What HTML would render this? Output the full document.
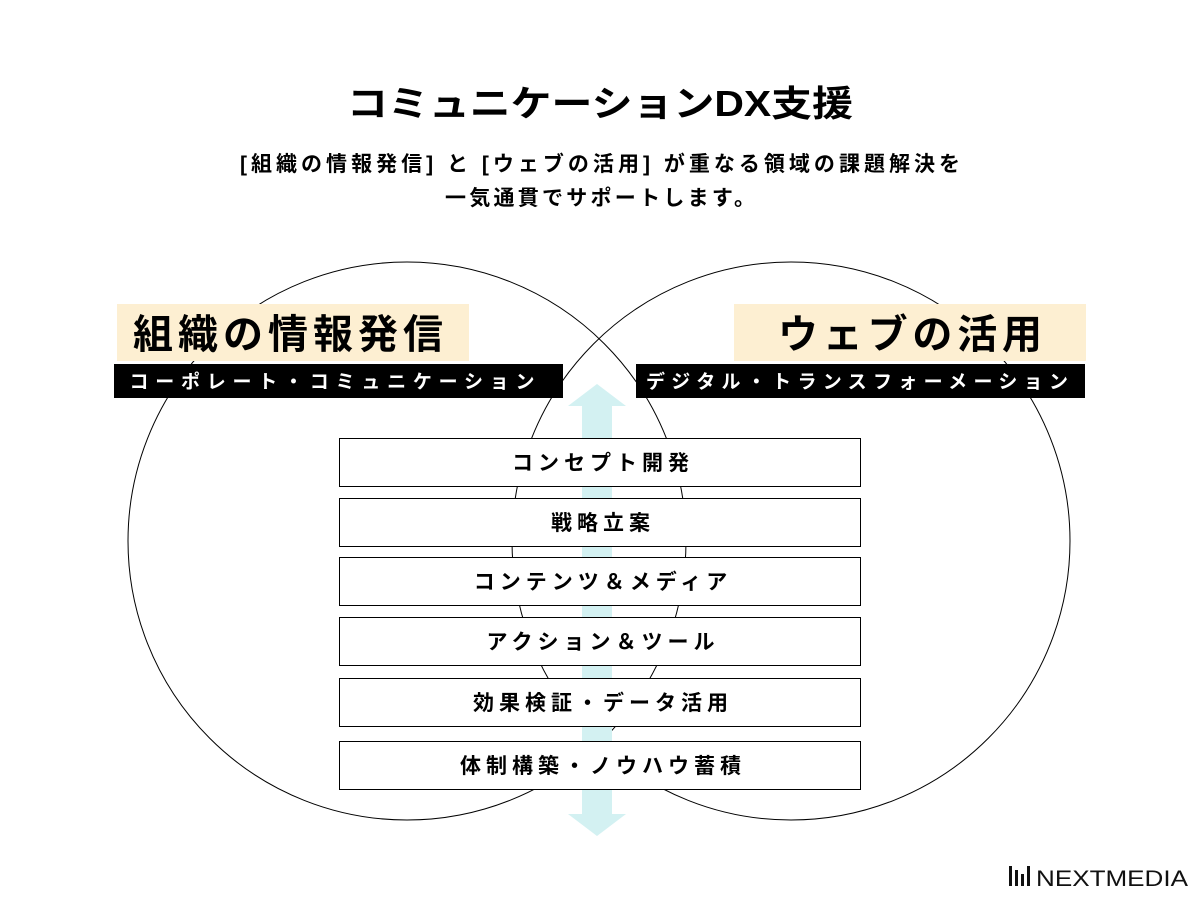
<!DOCTYPE html>
<html><head><meta charset="utf-8"><style>html,body{margin:0;padding:0;background:#fff}svg{display:block}</style></head>
<body>
<svg width="1200" height="900" viewBox="0 0 1200 900" xmlns="http://www.w3.org/2000/svg" font-family="'Liberation Sans','Noto Sans CJK JP',sans-serif">
<rect width="1200" height="900" fill="#fff"/>
<text x="600" y="116" font-size="36" font-weight="bold" text-anchor="middle" textLength="506" lengthAdjust="spacingAndGlyphs">コミュニケーションDX支援</text>
<text x="600" y="171" font-size="21" font-weight="bold" text-anchor="middle" textLength="720" lengthAdjust="spacing">[組織の情報発信] と [ウェブの活用] が重なる領域の課題解決を</text>
<text x="600" y="205" font-size="21" font-weight="bold" text-anchor="middle" textLength="310" lengthAdjust="spacing">一気通貫でサポートします。</text>
<circle cx="407" cy="541" r="279" fill="none" stroke="#000" stroke-width="1"/>
<circle cx="791" cy="541" r="279" fill="none" stroke="#000" stroke-width="1"/>
<rect x="117" y="304" width="352" height="57" fill="#fdefd2"/>
<rect x="734" y="304" width="352" height="57" fill="#fdefd2"/>
<text x="288" y="348" font-size="40" font-weight="bold" text-anchor="middle" textLength="310" lengthAdjust="spacing">組織の情報発信</text>
<text x="910" y="348" font-size="40" font-weight="bold" text-anchor="middle" textLength="264" lengthAdjust="spacing">ウェブの活用</text>
<rect x="114" y="364" width="449" height="34" fill="#000"/>
<rect x="636" y="364" width="449" height="34" fill="#000"/>
<text x="332" y="388" font-size="19" font-weight="bold" fill="#fff" text-anchor="middle" textLength="405" lengthAdjust="spacing">コーポレート・コミュニケーション</text>
<text x="857" y="388" font-size="19" font-weight="bold" fill="#fff" text-anchor="middle" textLength="422" lengthAdjust="spacing">デジタル・トランスフォーメーション</text>
<polygon points="597,384 626,406 612,406 612,814 626,814 597,836 568,814 582,814 582,406 568,406" fill="#d3f1f2"/>
<g stroke="#000" stroke-width="1" fill="#fff">
<rect x="339.5" y="438.5" width="521" height="48"/>
<rect x="339.5" y="498.5" width="521" height="48"/>
<rect x="339.5" y="557.5" width="521" height="48"/>
<rect x="339.5" y="617.5" width="521" height="48"/>
<rect x="339.5" y="678.5" width="521" height="48"/>
<rect x="339.5" y="741.5" width="521" height="48"/>
</g>
<g font-size="21" font-weight="bold" text-anchor="middle" letter-spacing="5">
<text x="603" y="470">コンセプト開発</text>
<text x="603" y="530">戦略立案</text>
<text x="603" y="589">コンテンツ＆メディア</text>
<text x="603" y="649">アクション＆ツール</text>
<text x="603" y="710">効果検証・データ活用</text>
<text x="603" y="773">体制構築・ノウハウ蓄積</text>
</g>
<g fill="#111">
<rect x="1009" y="866" width="3" height="20"/>
<rect x="1015" y="870" width="3" height="16"/>
<rect x="1021" y="874" width="3" height="12"/>
<rect x="1027" y="866" width="3" height="20"/>
</g>
<text x="1036" y="886" font-size="22" fill="#111" textLength="152" lengthAdjust="spacingAndGlyphs">NEXTMEDIA</text>
</svg>
</body></html>
